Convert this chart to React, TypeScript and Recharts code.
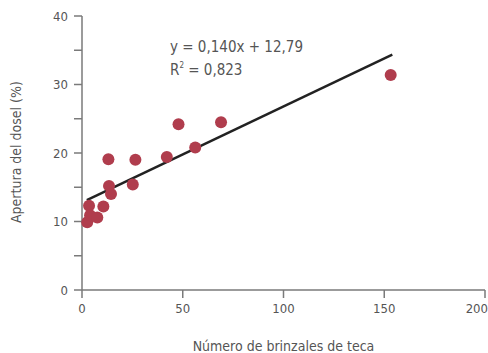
import React from 'react';
import { ComposedChart, Scatter, XAxis, YAxis, ReferenceLine } from 'recharts';

// Number of teak saplings vs canopy openness
const saplings = [2.6, 3.5, 4.0, 7.6, 10.6, 13.1, 13.4, 14.4, 25.2, 26.5, 42.1, 47.9, 56.2, 69.0, 153.2];
const openness = [9.9, 12.3, 10.9, 10.6, 12.2, 19.1, 15.2, 14.0, 15.4, 19.0, 19.4, 24.2, 20.8, 24.5, 31.4];

const slope = 0.14;
const intercept = 12.79;
const fitRange = [2.4, 154];

const xTicks = [0, 50, 100, 150, 200];
const yTicks = [0, 5, 10, 15, 20, 25, 30, 35, 40];

const points = saplings.map((x, i) => ({ x, y: openness[i] }));

const font = '"DejaVu Sans Condensed", "DejaVu Sans", sans-serif';
const axisColor = '#7a7a7a';
const textColor = '#555';
const textStyle = { fontFamily: font, fontStretch: 'condensed' as const };

const Dot = (props: any) => {
  const { cx, cy } = props;
  return <circle cx={cx} cy={cy} r={6} fill="#b03d4d" />;
};

const App: React.FC = () => {
  return (
    <div style={{ position: 'absolute', left: 0, top: 0, width: 488, height: 353, ...textStyle }}>
      <ComposedChart width={488} height={353} margin={{ top: 16, right: 3, left: 0, bottom: 0 }}>
        <XAxis
          type="number"
          dataKey="x"
          domain={[0, 200]}
          ticks={xTicks}
          height={63}
          tickSize={8}
          tickMargin={6}
          stroke={axisColor}
          strokeWidth={1.5}
          tick={{ fill: textColor, fontSize: 13, style: textStyle }}
          label={{ value: 'Número de brinzales de teca', position: 'insideBottom', offset: 2, fill: textColor, fontSize: 14, style: textStyle }}
        />
        <YAxis
          type="number"
          dataKey="y"
          domain={[0, 40]}
          ticks={yTicks}
          width={82}
          tickSize={8}
          tickMargin={6}
          stroke={axisColor}
          strokeWidth={1.5}
          interval={0}
          tickFormatter={(v: number) => (v % 10 === 0 ? String(v) : '')}
          tick={{ fill: textColor, fontSize: 13, style: textStyle }}
          label={{ value: 'Apertura del dosel (%)', angle: -90, position: 'insideLeft', offset: 16, fill: textColor, fontSize: 14, style: textStyle, dy: 70 }}
        />
        <ReferenceLine
          segment={[
            { x: fitRange[0], y: slope * fitRange[0] + intercept },
            { x: fitRange[1], y: slope * fitRange[1] + intercept },
          ]}
          stroke="#222"
          strokeWidth={2.5}
        />
        <Scatter data={points} shape={<Dot />} isAnimationActive={false} />
      </ComposedChart>
      <div style={{ position: 'absolute', left: 170, top: 36, color: textColor, fontSize: 15, lineHeight: '23px' }}>
        <div>y = 0,140x + 12,79</div>
        <div>
          R<span style={{ fontSize: 8, position: 'relative', top: -7 }}>2</span> = 0,823
        </div>
      </div>
    </div>
  );
};

export default App;
